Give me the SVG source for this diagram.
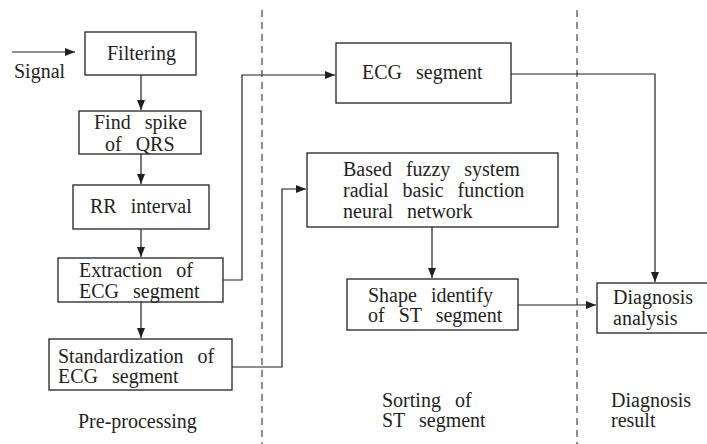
<svg xmlns="http://www.w3.org/2000/svg" width="707" height="444" viewBox="0 0 707 444">
  <style>
    .box { fill: #ffffff; stroke: #231f20; stroke-width: 1.3; }
    .lbl { font-family: 'Liberation Serif', 'DejaVu Serif', 'Times New Roman', Times, serif; font-size: 20px; fill: #231f20; word-spacing: 9px; }
    .wire { fill: none; stroke: #231f20; stroke-width: 1.2; }
    .lane { fill: none; stroke: #231f20; stroke-width: 1; stroke-dasharray: 7 5; }
  </style>
  <defs>
    <marker id="head" viewBox="0 0 10 8" refX="10" refY="4" markerWidth="10" markerHeight="8" markerUnits="userSpaceOnUse" orient="auto">
      <path d="M0,0 L10,4 L0,8 Z" fill="#231f20"/>
    </marker>
  </defs>
  <rect width="707" height="444" fill="#ffffff"/>

  <!-- lane separators -->
  <g id="lanes">
    <line class="lane" x1="262" y1="10" x2="262" y2="444"/>
    <line class="lane" x1="577" y1="10" x2="577" y2="444"/>
  </g>

  <!-- connectors -->
  <g id="connectors">
    <line class="wire" x1="12" y1="52" x2="75" y2="52" marker-end="url(#head)"/>
    <line class="wire" x1="141" y1="75" x2="141" y2="110" marker-end="url(#head)"/>
    <line class="wire" x1="141" y1="154" x2="141" y2="184" marker-end="url(#head)"/>
    <line class="wire" x1="141" y1="229" x2="141" y2="257" marker-end="url(#head)"/>
    <line class="wire" x1="141" y1="302" x2="141" y2="338" marker-end="url(#head)"/>
    <polyline class="wire" points="223,280 242,280 242,75 335,75" marker-end="url(#head)"/>
    <polyline class="wire" points="232,367 282,367 282,189 306,189" marker-end="url(#head)"/>
    <line class="wire" x1="432" y1="227" x2="432" y2="278" marker-end="url(#head)"/>
    <polyline class="wire" points="511,74 655,74 655,282" marker-end="url(#head)"/>
    <line class="wire" x1="518" y1="305" x2="596" y2="305" marker-end="url(#head)"/>
  </g>

  <text class="lbl" x="14" y="78">Signal</text>

  <g id="filtering">
    <rect class="box" x="85" y="32" width="111" height="43"/>
    <text class="lbl" x="107" y="60">Filtering</text>
  </g>

  <g id="find-spike">
    <rect class="box" x="79" y="111" width="122" height="43"/>
    <text class="lbl" x="94" y="129">Find spike</text>
    <text class="lbl" x="105" y="151">of QRS</text>
  </g>

  <g id="rr-interval">
    <rect class="box" x="73" y="185" width="136" height="44"/>
    <text class="lbl" x="90" y="213">RR interval</text>
  </g>

  <g id="extraction">
    <rect class="box" x="58" y="258" width="165" height="44"/>
    <text class="lbl" x="79" y="277">Extraction of</text>
    <text class="lbl" x="79" y="298">ECG segment</text>
  </g>

  <g id="standardization">
    <rect class="box" x="49" y="339" width="183" height="51"/>
    <text class="lbl" x="58" y="363">Standardization of</text>
    <text class="lbl" x="58" y="383">ECG segment</text>
  </g>

  <g id="ecg-segment">
    <rect class="box" x="336" y="43" width="175" height="60"/>
    <text class="lbl" x="362" y="79">ECG segment</text>
  </g>

  <g id="fuzzy-rbf">
    <rect class="box" x="307" y="153" width="251" height="74"/>
    <text class="lbl" x="343" y="176">Based fuzzy system</text>
    <text class="lbl" x="343" y="197">radial basic function</text>
    <text class="lbl" x="343" y="218">neural network</text>
  </g>

  <g id="shape-identify">
    <rect class="box" x="347" y="279" width="171" height="51"/>
    <text class="lbl" x="368" y="302">Shape identify</text>
    <text class="lbl" x="368" y="322">of ST segment</text>
  </g>

  <g id="diagnosis-analysis">
    <rect class="box" x="597" y="283" width="112" height="50"/>
    <text class="lbl" x="613" y="304">Diagnosis</text>
    <text class="lbl" x="613" y="325">analysis</text>
  </g>

  <!-- lane titles -->
  <g id="lane-titles">
    <text class="lbl" x="78" y="428">Pre-processing</text>
    <text class="lbl" x="382" y="407">Sorting of</text>
    <text class="lbl" x="382" y="427">ST segment</text>
    <text class="lbl" x="611" y="407">Diagnosis</text>
    <text class="lbl" x="611" y="427">result</text>
  </g>
</svg>
